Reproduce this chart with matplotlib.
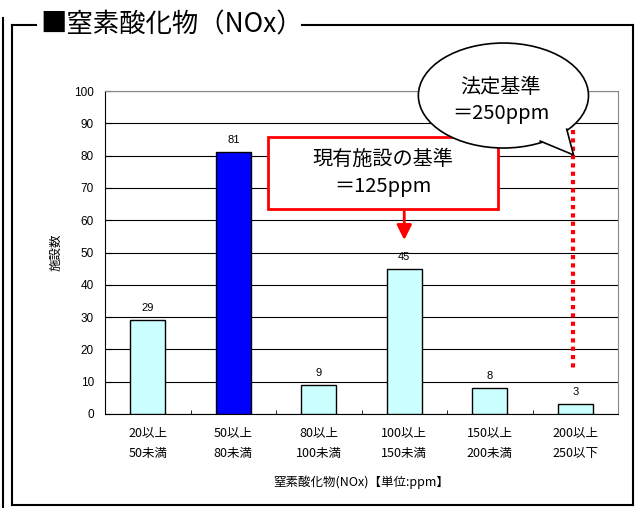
import matplotlib
matplotlib.use("Agg")
import matplotlib.pyplot as plt
from matplotlib.patches import Ellipse, Rectangle, Polygon
from matplotlib.lines import Line2D

plt.rcParams['font.family'] = ['Noto Sans CJK JP', 'DejaVu Sans']

# data
categories = ['20以上\n50未満', '50以上\n80未満', '80以上\n100未満',
              '100以上\n150未満', '150以上\n200未満', '200以上\n250以下']
counts = [29, 81, 9, 45, 8, 3]
highlight = 1  # 50以上80未満

title = '■窒素酸化物（NOx）'
xlabel = '窒素酸化物(NOx)【単位:ppm】'
ylabel = '施設数'
existing_note = '現有施設の基準\n＝125ppm'
legal_note = '法定基準\n＝250ppm'

W, H = 640, 508
fig = plt.figure(figsize=(W / 100, H / 100), dpi=100)


def fx(px):
    return px / W


def fy(py):
    return 1 - py / H


# outer frame drawn in pixel terms
def fline(xs, ys, lw=1.5):
    fig.add_artist(Line2D([fx(x) for x in xs], [fy(y) for y in ys],
                          color='black', lw=lw, transform=fig.transFigure))


fline([3, 3], [18, 508])
fline([12, 12], [25, 505])
fline([12, 36], [25, 25])
fline([302, 633], [25, 25])
fline([633, 633], [25, 505])
fline([12, 633], [505, 505])
fig.text(fx(40), fy(25), title, fontsize=19, va='center', ha='left')

ax = fig.add_axes([fx(105), fy(414), fx(618) - fx(105), fy(91) - fy(414)])

x = list(range(len(categories)))
colors = ['#0000FF' if i == highlight else '#CCFFFF' for i in x]
ax.bar(x, counts, width=0.41, color=colors, edgecolor='black', lw=1, zorder=3)
for xi, c in zip(x, counts):
    ax.text(xi, c + 2.2, str(c), ha='center', va='bottom', fontsize=8,
            family='Liberation Sans', zorder=4)

ax.set_xlim(-0.5, len(categories) - 0.5)
ax.set_ylim(0, 100)
ax.set_yticks(range(0, 101, 10))
ax.set_xticks(x)
ax.set_xticklabels(categories, fontsize=9, linespacing=1.75)
ax.set_xticks([i + 0.5 for i in x[:-1]], minor=True)
ax.tick_params(axis='x', which='major', length=0, pad=9)
ax.tick_params(axis='x', which='minor', direction='in', length=3)
ax.tick_params(axis='y', length=4, labelsize=8.5, direction='in', pad=8)
for lab in ax.get_yticklabels():
    lab.set_family('Liberation Sans')
ax.yaxis.grid(True, color='black', lw=0.8)
ax.set_axisbelow(True)
for s in ['top', 'right']:
    ax.spines[s].set_color('#888888')
ax.set_xlabel(xlabel, fontsize=9, labelpad=11)
ax.set_ylabel(ylabel, fontsize=9, labelpad=8)

# 250ppm legal line
ax.plot([4.97, 4.97], [88, 14], color='red', lw=3, ls=(0, (1, 1)), zorder=4)

# existing standard box + arrow
ax.add_patch(Rectangle((1.41, 63.5), 2.69, 22.3, facecolor='white',
                       edgecolor='red', lw=2, zorder=5))
ax.text(2.755, 74.6, existing_note, ha='center', va='center', fontsize=14.5,
        linespacing=1.35, zorder=6)
ax.annotate('', xy=(3.0, 53.0), xytext=(3.0, 63.5),
            arrowprops=dict(arrowstyle='-|>,head_width=0.45,head_length=0.9',
                            color='red', lw=2), zorder=5)

# legal standard speech bubble
ax.add_patch(Ellipse((4.16, 98.6), 1.99, 32.5, facecolor='white',
                     edgecolor='black', lw=1.2, zorder=6, clip_on=False))
tail = [(4.59, 84.5), (4.98, 80.2), (4.90, 88.2), (4.75, 90.0), (4.55, 88.0)]
ax.add_patch(Polygon(tail, closed=True, facecolor='white', edgecolor='none',
                     zorder=7, clip_on=False))
ax.plot([4.59, 4.98, 4.90], [84.5, 80.2, 88.2], color='black', lw=1.2,
        zorder=7, clip_on=False)
ax.text(4.13, 97.0, legal_note, ha='center', va='center', fontsize=14.5,
        linespacing=1.35, zorder=8)

fig.savefig('out.png', dpi=100)
